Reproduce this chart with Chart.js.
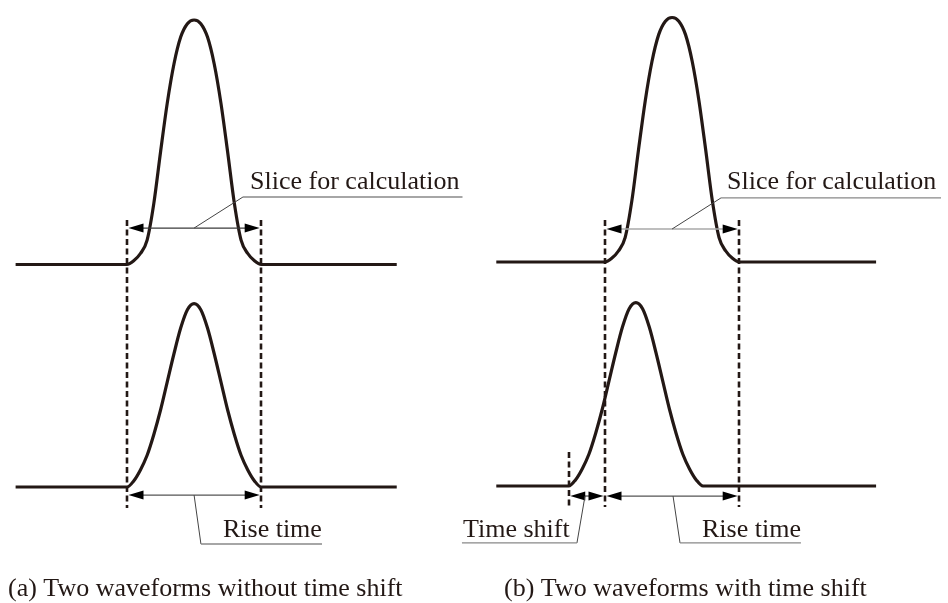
<!DOCTYPE html>
<html>
<head>
<meta charset="utf-8">
<script src="https://cdn.jsdelivr.net/npm/chart.js"></script>
<style>
  html, body { margin: 0; padding: 0; background: #fff; }
  #wrap { width: 948px; height: 603px; }
</style>
</head>
<body>
<div id="wrap"><canvas id="waveChart" width="948" height="603"></canvas></div>
<script>
// Время в отн. ед.: окно расчёта = 0..10
const pulseTime = [0, 0.5, 1, 1.5, 2, 2.5, 3, 3.5, 4, 4.5, 5, 5.5, 6, 6.5, 7, 7.5, 8, 8.5, 9, 9.5, 10];
// Верхний импульс (амплитуда 1)
const pulseTop = [0, 0.015, 0.045, 0.1, 0.25, 0.46, 0.66, 0.82, 0.93, 0.985, 1, 0.985, 0.93, 0.82, 0.66, 0.46, 0.25, 0.1, 0.045, 0.015, 0];
// Нижний импульс (ниже и шире у вершины)
const pulseBottom = [0, 0.025, 0.07, 0.13, 0.215, 0.315, 0.43, 0.545, 0.65, 0.725, 0.75, 0.725, 0.65, 0.545, 0.43, 0.315, 0.215, 0.13, 0.07, 0.025, 0];
// Начало и конец базовой линии для панелей (a) и (b)
const baseStart = [-8.3, -8.1];
const baseEnd = [20.1, 20.2];
// Сдвиг нижнего сигнала в панели (b)
const timeShift = -2.7;
const windowEnd = 10;
const captions = ['(a) Two waveforms without time shift', '(b) Two waveforms with time shift'];
const sliceLabel = 'Slice for calculation';
const riseLabel = 'Rise time';
const shiftLabel = 'Time shift';

const INK = '#231815';
const FONT = '26px "Liberation Serif", "Times New Roman", serif';

// Точки сигнала: базовая линия + импульс
function makeTrace(start, end, amps, shift) {
    const pts = [{ x: start, y: 0 }];
    pulseTime.forEach((t, i) => pts.push({ x: t + shift, y: amps[i] }));
    pts.push({ x: end, y: 0 });
    return pts;
}

// Настройки панелей (координаты подписей в единицах данных)
const panels = [
    {
        x: 'xA', yTop: 'yA1', yBot: 'yA2', shift: 0, caption: captions[0], captionX: 8,
        dashTop: 0.182, dashBottom: -0.086,
        sliceY: 0.149, sliceLine: '#3a3a3a',
        sliceLeader: [[5, 0.149], [8.64, 0.276], [25.0, 0.276]], sliceText: [9.17, 0.309],
        riseY: -0.033,
        riseLeader: [[5, -0.033], [5.51, -0.233], [14.53, -0.233]], riseText: [7.15, -0.2045]
    },
    {
        x: 'xB', yTop: 'yB1', yBot: 'yB2', shift: timeShift, caption: captions[1], captionX: 504,
        dashTop: 0.172, dashBottom: -0.086, shortDashTop: 0.139,
        sliceY: 0.135, sliceLine: '#a8a8a8',
        sliceLeader: [[5, 0.135], [8.64, 0.262], [25.04, 0.262]], sliceText: [9.09, 0.2986],
        riseY: -0.041,
        riseLeader: [[5.07, -0.041], [5.59, -0.233], [14.6, -0.233]], riseText: [7.23, -0.2086],
        shiftLeader: [[-1.49, -0.041], [-2.09, -0.233], [-10.66, -0.233]], shiftText: [-10.58, -0.2086]
    }
];

function drawHead(ctx, tipX, y, dir) {
    ctx.beginPath();
    ctx.moveTo(tipX, y);
    ctx.lineTo(tipX + dir * 15, y - 4.5);
    ctx.lineTo(tipX + dir * 15, y + 4.5);
    ctx.closePath();
    ctx.fill();
}

function drawArrow(ctx, x1, x2, y, color) {
    ctx.strokeStyle = color;
    ctx.lineWidth = 1.3;
    ctx.beginPath();
    ctx.moveTo(x1 + 10, y);
    ctx.lineTo(x2 - 10, y);
    ctx.stroke();
    ctx.fillStyle = '#000';
    drawHead(ctx, x1, y, 1);
    drawHead(ctx, x2, y, -1);
}

function drawLeader(ctx, pts) {
    ctx.strokeStyle = '#444';
    ctx.lineWidth = 1;
    ctx.beginPath();
    ctx.moveTo(pts[0][0], pts[0][1]);
    ctx.lineTo(pts[1][0], pts[1][1]);
    ctx.stroke();
    ctx.strokeStyle = '#888';
    ctx.lineWidth = 1.3;
    ctx.beginPath();
    ctx.moveTo(pts[1][0], pts[1][1]);
    ctx.lineTo(pts[2][0], pts[2][1]);
    ctx.stroke();
}

// Плагин: пунктир, стрелки, выноски и подписи
const annotationPlugin = {
    id: 'waveAnnotations',
    beforeDatasetsDraw(chart) {
        const ctx = chart.ctx;
        panels.forEach(p => {
            const xs = chart.scales[p.x], yt = chart.scales[p.yTop], yb = chart.scales[p.yBot];
            ctx.save();
            ctx.strokeStyle = INK;
            ctx.lineWidth = 2.6;
            ctx.setLineDash([6, 3.5]);
            [0, windowEnd].forEach(t => {
                const x = Math.round(xs.getPixelForValue(t));
                ctx.beginPath();
                ctx.moveTo(x, yt.getPixelForValue(p.dashTop));
                ctx.lineTo(x, yb.getPixelForValue(p.dashBottom));
                ctx.stroke();
            });
            if (p.shortDashTop !== undefined) {
                const x = Math.round(xs.getPixelForValue(p.shift));
                ctx.beginPath();
                ctx.moveTo(x, yb.getPixelForValue(p.shortDashTop));
                ctx.lineTo(x, yb.getPixelForValue(p.dashBottom));
                ctx.stroke();
            }
            ctx.restore();
        });
    },
    afterDatasetsDraw(chart) {
        const ctx = chart.ctx;
        panels.forEach(p => {
            const xs = chart.scales[p.x], yt = chart.scales[p.yTop], yb = chart.scales[p.yBot];
            const toPx = (pts, ys) => pts.map(([t, a]) => [xs.getPixelForValue(t), ys.getPixelForValue(a)]);
            const x0 = xs.getPixelForValue(0), x10 = xs.getPixelForValue(windowEnd);
            ctx.save();
            ctx.setLineDash([]);

            // Окно расчёта
            drawArrow(ctx, x0 + 1.5, x10 - 1.5, yt.getPixelForValue(p.sliceY), p.sliceLine);
            drawLeader(ctx, toPx(p.sliceLeader, yt));

            // Время нарастания
            drawArrow(ctx, x0 + 1.5, x10 - 1.5, yb.getPixelForValue(p.riseY), '#555');
            drawLeader(ctx, toPx(p.riseLeader, yb));

            // Сдвиг по времени
            if (p.shiftLeader) {
                drawArrow(ctx, xs.getPixelForValue(p.shift) + 1.5, x0 - 1.5, yb.getPixelForValue(p.riseY), '#555');
                drawLeader(ctx, toPx(p.shiftLeader, yb));
            }

            ctx.fillStyle = INK;
            ctx.font = FONT;
            ctx.textBaseline = 'alphabetic';
            ctx.textAlign = 'left';
            ctx.fillText(sliceLabel, xs.getPixelForValue(p.sliceText[0]), yt.getPixelForValue(p.sliceText[1]));
            ctx.fillText(riseLabel, xs.getPixelForValue(p.riseText[0]), yb.getPixelForValue(p.riseText[1]));
            if (p.shiftText) {
                ctx.fillText(shiftLabel, xs.getPixelForValue(p.shiftText[0]), yb.getPixelForValue(p.shiftText[1]));
            }
            // Подпись панели
            ctx.fillText(p.caption, p.captionX, chart.chartArea.bottom - 7);
            ctx.restore();
        });
    }
};

function renderChart() {
    const lineStyle = {
        showLine: true,
        borderColor: INK,
        borderWidth: 3.2,
        pointRadius: 0,
        cubicInterpolationMode: 'monotone',
        fill: false
    };
    const datasets = [
        { ...lineStyle, label: 'a-top', data: makeTrace(baseStart[0], baseEnd[0], pulseTop, 0), xAxisID: 'xA', yAxisID: 'yA1' },
        { ...lineStyle, label: 'a-bottom', data: makeTrace(baseStart[0], baseEnd[0], pulseBottom, 0), xAxisID: 'xA', yAxisID: 'yA2' },
        { ...lineStyle, label: 'b-top', data: makeTrace(baseStart[1], baseEnd[1], pulseTop, 0), xAxisID: 'xB', yAxisID: 'yB1' },
        { ...lineStyle, label: 'b-bottom', data: makeTrace(baseStart[1], baseEnd[1], pulseBottom, timeShift), xAxisID: 'xB', yAxisID: 'yB2' }
    ];
    const hidden = { type: 'linear', display: false };

    const ctx = document.getElementById('waveChart').getContext('2d');
    new Chart(ctx, {
        type: 'scatter',
        data: { datasets },
        options: {
            responsive: false,
            animation: false,
            layout: { padding: 0 },
            plugins: { legend: { display: false }, tooltip: { enabled: false } },
            scales: {
                xA: { ...hidden, axis: 'x', min: -9.463, max: 61.178 },
                xB: { ...hidden, axis: 'x', min: -45.082, max: 25.559 },
                yA1: { ...hidden, axis: 'y', min: -1.3845, max: 1.0818 },
                yA2: { ...hidden, axis: 'y', min: -0.4744, max: 1.9918 },
                yB1: { ...hidden, axis: 'y', min: -1.3947, max: 1.0716 },
                yB2: { ...hidden, axis: 'y', min: -0.4785, max: 1.9877 }
            }
        },
        plugins: [annotationPlugin]
    });
}

renderChart();
</script>
</body>
</html>
